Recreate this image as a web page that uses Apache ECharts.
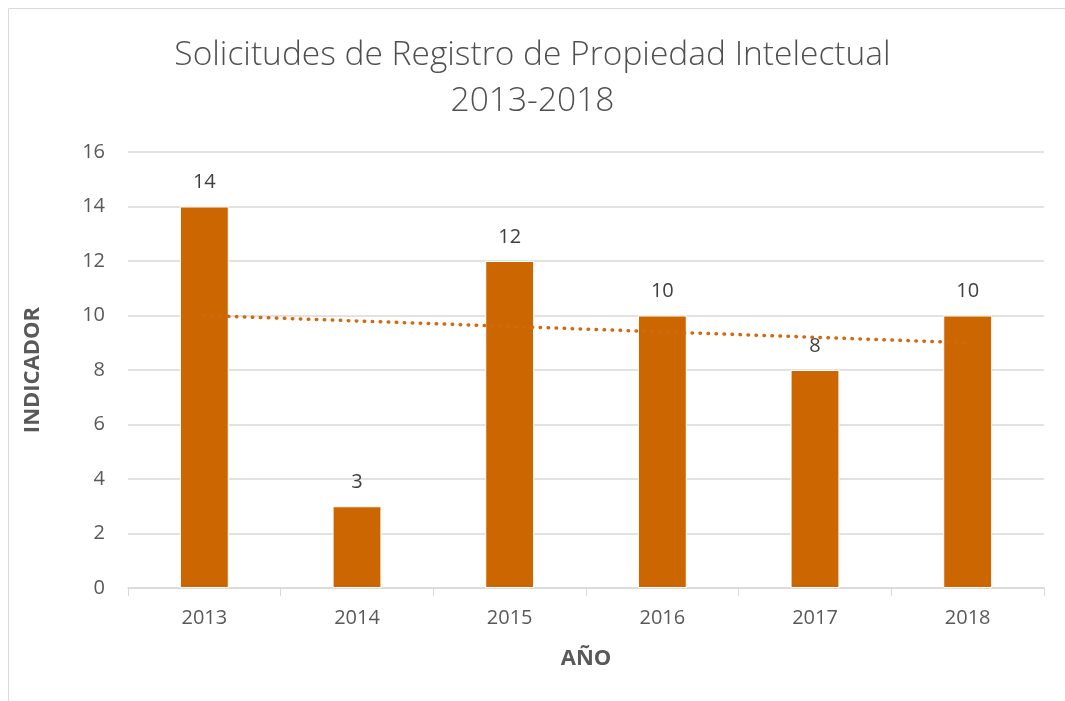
<!DOCTYPE html>
<html>
<head>
<meta charset="utf-8">
<script src="https://cdn.jsdelivr.net/npm/echarts@6/dist/echarts.min.js"></script>
<style>
  html, body { margin: 0; padding: 0; background: #fff; }
  #chart { width: 1065px; height: 701px; }
</style>
</head>
<body>
<div id="chart"></div>
<script>
// data
const years = ['2013', '2014', '2015', '2016', '2017', '2018'];
const solicitudes = [14, 3, 12, 10, 8, 10];
// linear trend line as drawn
const tendencia = [10, 9.8, 9.6, 9.4, 9.2, 9.0];

const chart = echarts.init(document.getElementById('chart'));
const txt = '#595959';
const font = '"Open Sans", "Noto Sans", sans-serif';

chart.setOption({
    animation: false,
    textStyle: { fontFamily: font },
    graphic: [{
        type: 'rect',
        shape: { x: 8.5, y: 8.5, width: 1060, height: 700 },
        style: { fill: null, stroke: '#d9d9d9', lineWidth: 1 }
    }],
    title: {
        text: 'Solicitudes de Registro de Propiedad Intelectual\n2013-2018',
        left: 'center',
        top: 27,
        textStyle: {
            fontFamily: font,
            fontWeight: 300,
            fontSize: 33.5,
            lineHeight: 46,
            color: '#505050'
        }
    },
    grid: { left: 128, right: 21, top: 152, bottom: 113 },
    xAxis: {
        type: 'category',
        data: years,
        name: 'AÑO',
        nameLocation: 'middle',
        nameGap: 60,
        nameTextStyle: { fontSize: 22, fontWeight: 'bold', color: txt },
        axisLine: { lineStyle: { color: '#d9d9d9', width: 1.5 } },
        axisTick: { show: true, length: 8, lineStyle: { color: '#d9d9d9' } },
        axisLabel: { fontSize: 20, color: txt, margin: 20 }
    },
    yAxis: {
        type: 'value',
        min: 0,
        max: 16,
        interval: 2,
        name: 'INDICADOR',
        nameLocation: 'middle',
        nameGap: 84,
        nameRotate: 90,
        nameTextStyle: { fontSize: 22, fontWeight: 'bold', color: txt },
        axisLine: { show: false },
        axisTick: { show: false },
        axisLabel: { fontSize: 20, color: txt, margin: 23 },
        splitLine: { lineStyle: { color: '#d9d9d9', width: 1.5 } }
    },
    series: [{
        type: 'bar',
        data: solicitudes,
        barWidth: '32%',
        itemStyle: { color: '#cc6600', borderColor: '#fff', borderWidth: 1 },
        label: {
            show: true,
            position: 'top',
            distance: 14,
            fontSize: 20,
            color: '#404040'
        },
        z: 2
    }, {
        type: 'line',
        data: tendencia,
        symbol: 'none',
        silent: true,
        lineStyle: { color: '#d0690f', width: 3.5, type: [0.5, 7.5], cap: 'round' },
        z: 3
    }]
});
</script>
</body>
</html>
